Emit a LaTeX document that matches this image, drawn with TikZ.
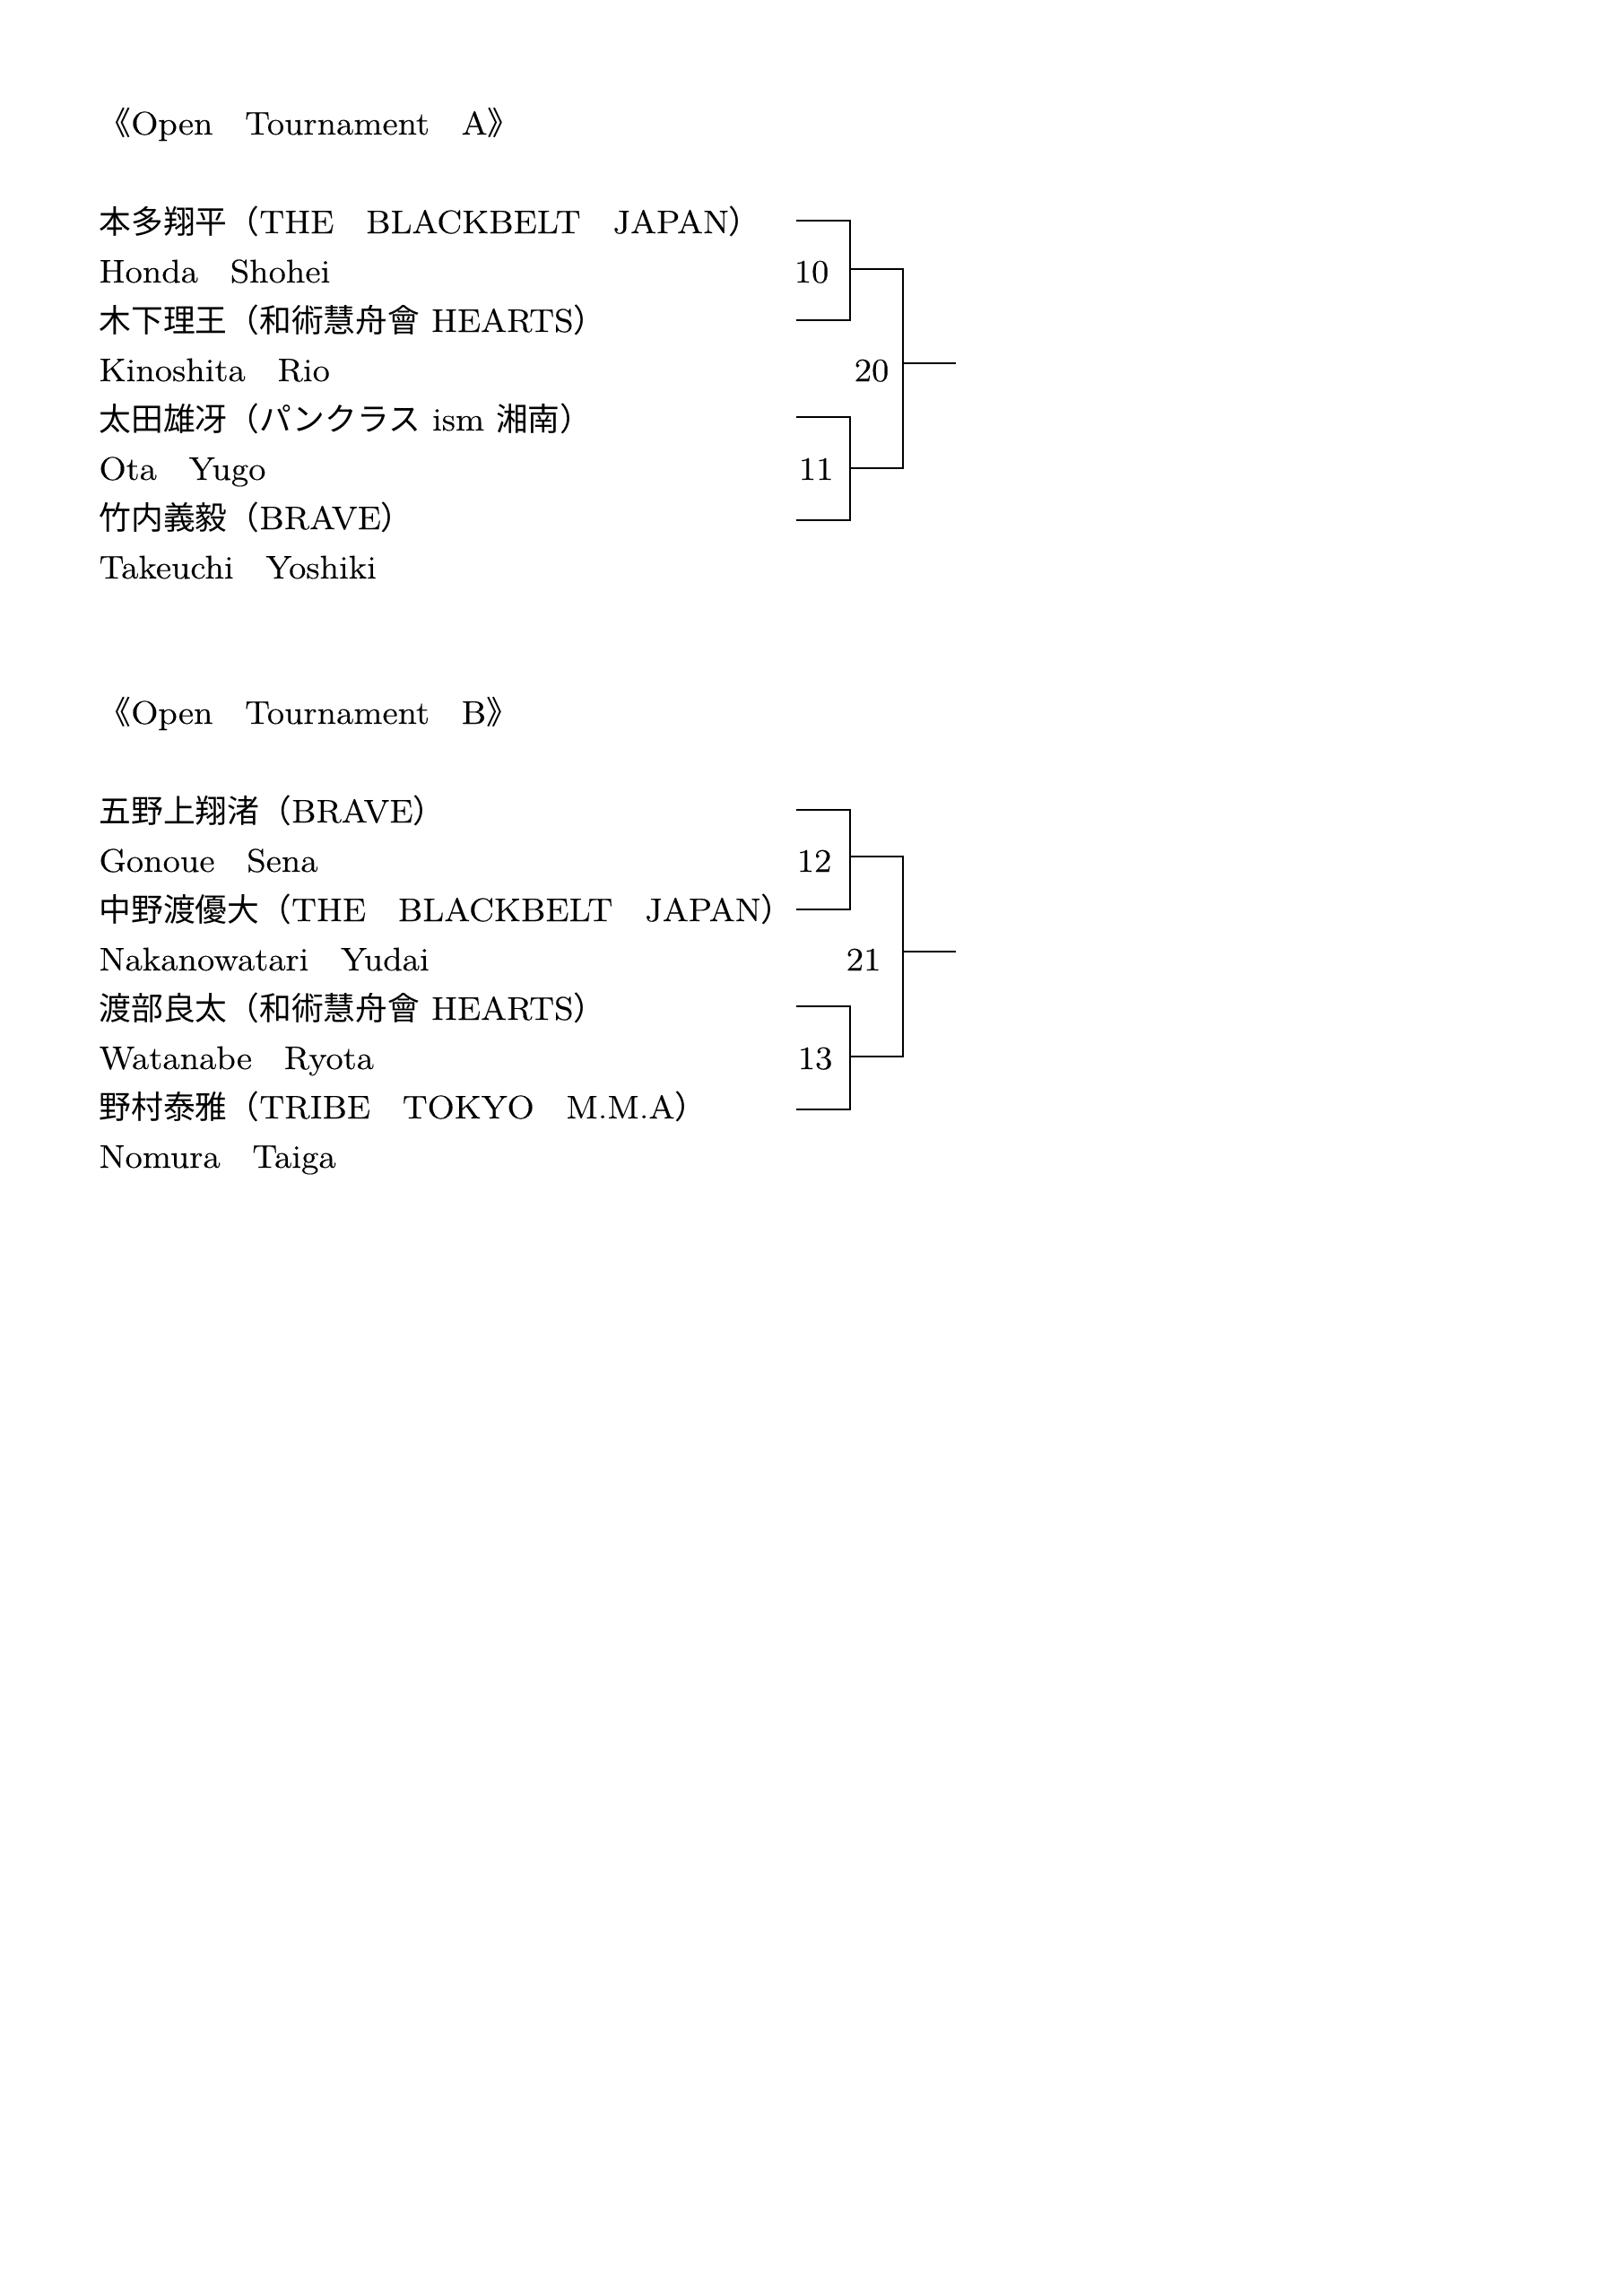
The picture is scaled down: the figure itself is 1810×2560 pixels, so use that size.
\documentclass[tikz,border=0pt]{standalone}
\usepackage{fontspec}
\setmainfont[FakeStretch=1.08,FakeBold=0.3]{Latin Modern Roman}
\newfontfamily\jpfont[Scale=0.98]{Noto Sans CJK JP}
\newcommand\JP[1]{{\jpfont #1}}
\begin{document}
\begin{tikzpicture}[x=0.3289pt,y=-0.3289pt,
  txt/.style={anchor=base west,inner sep=0pt,font=\fontsize{12pt}{14pt}\selectfont},
  num/.style={anchor=base east,inner sep=0pt,font=\fontsize{12pt}{14pt}\selectfont},
  bracket/.style={draw=black,line width=0.8pt,line join=miter}]
\useasboundingbox (0,0) rectangle (1810,2560);
\fill[white] (0,0) rectangle (1810,2560);

% ---------- Tournament A ----------
\node[txt] (ta) at (110,150) {\JP{《}Open\JP{　}Tournament\JP{　}A\JP{》}};
\node[txt] (a0) at (110,260) {\JP{本多翔平（}THE\JP{　}BLACKBELT\JP{　}JAPAN\JP{）}};
\node[txt] (a1) at (110,315) {Honda\JP{　}Shohei};
\node[txt] (a2) at (110,370) {\JP{木下理王（和術慧舟會} HEARTS\JP{）}};
\node[txt] (a3) at (110,425) {Kinoshita\JP{　}Rio};
\node[txt] (a4) at (110,480) {\JP{太田雄冴（パンクラス} ism \JP{湘南）}};
\node[txt] (a5) at (110,535) {Ota\JP{　}Yugo};
\node[txt] (a6) at (110,590) {\JP{竹内義毅（}BRAVE\JP{）}};
\node[txt] (a7) at (110,645) {Takeuchi\JP{　}Yoshiki};

\coordinate (A1) at (888,246);
\coordinate (A2) at (888,357);
\coordinate (A3) at (888,465);
\coordinate (A4) at (888,580);
\coordinate (A10) at (948,300);
\coordinate (A11) at (948,522);
\coordinate (A20) at (1007,405);
\coordinate (Aout) at (1066,405);

\draw[bracket] (A1) -| (A10) |- (A2);
\draw[bracket] (A3) -| (A11) |- (A4);
\draw[bracket] (A10) -| (A20) |- (A11);
\draw[bracket] (A20) -- (Aout);

\node[num] (n10) at (925,315) {10};
\node[num] (n20) at (992,425) {20};
\node[num] (n11) at (930,535) {11};

% ---------- Tournament B ----------
\node[txt] (tb) at (110,807) {\JP{《}Open\JP{　}Tournament\JP{　}B\JP{》}};
\node[txt] (b0) at (110,917) {\JP{五野上翔渚（}BRAVE\JP{）}};
\node[txt] (b1) at (110,972) {Gonoue\JP{　}Sena};
\node[txt] (b2) at (110,1027) {\JP{中野渡優大（}THE\JP{　}BLACKBELT\JP{　}JAPAN\JP{）}};
\node[txt] (b3) at (110,1082) {Nakanowatari\JP{　}Yudai};
\node[txt] (b4) at (110,1137) {\JP{渡部良太（和術慧舟會} HEARTS\JP{）}};
\node[txt] (b5) at (110,1192) {Watanabe\JP{　}Ryota};
\node[txt] (b6) at (110,1247) {\JP{野村泰雅（}TRIBE\JP{　}TOKYO\JP{　}M.M.A\JP{）}};
\node[txt] (b7) at (110,1302) {Nomura\JP{　}Taiga};

\coordinate (B1) at (888,903);
\coordinate (B2) at (888,1014);
\coordinate (B3) at (888,1122);
\coordinate (B4) at (888,1237);
\coordinate (B12) at (948,955);
\coordinate (B13) at (948,1178);
\coordinate (B21) at (1007,1061);
\coordinate (Bout) at (1066,1061);

\draw[bracket] (B1) -| (B12) |- (B2);
\draw[bracket] (B3) -| (B13) |- (B4);
\draw[bracket] (B12) -| (B21) |- (B13);
\draw[bracket] (B21) -- (Bout);

\node[num] (n12) at (928,972) {12};
\node[num] (n21) at (983,1082) {21};
\node[num] (n13) at (929,1192) {13};
\end{tikzpicture}
\end{document}
